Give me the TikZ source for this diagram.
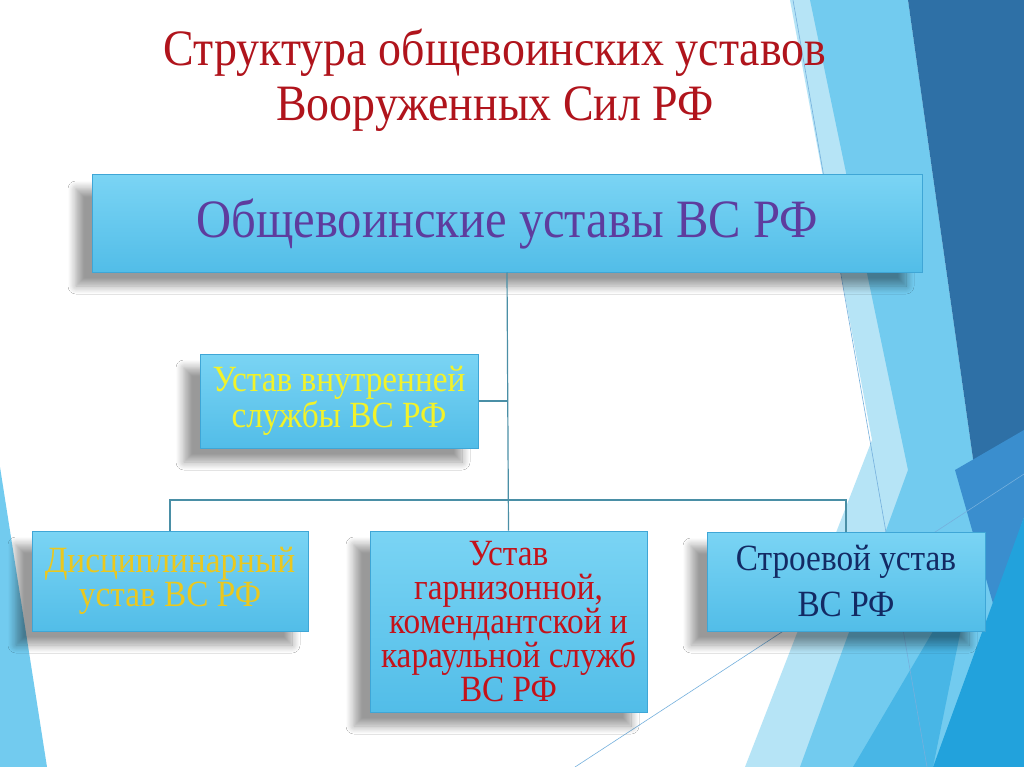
\documentclass[tikz,border=0pt]{standalone}
\usepackage{fontspec}
\setmainfont{Liberation Serif}[FakeStretch=0.9]
\usepackage{tikz}
\usetikzlibrary{positioning,shadows.blur}
\definecolor{titlered}{HTML}{B0141C}
\definecolor{boxtop}{HTML}{7AD4F4}
\definecolor{boxbot}{HTML}{52BDE8}
\definecolor{boxline}{HTML}{3FA6D6}
\definecolor{wire}{HTML}{4A8FA6}
\definecolor{purp}{HTML}{5E3C9E}
\definecolor{lemon}{HTML}{F2F22A}
\definecolor{gold}{HTML}{EBC81E}
\definecolor{crimson}{HTML}{C4121A}
\definecolor{navy}{HTML}{132A64}
\definecolor{facetpale}{HTML}{B6E4F6}
\definecolor{facetlight}{HTML}{72CBEF}
\definecolor{facetmid}{HTML}{48B6E6}
\definecolor{facetdark}{HTML}{2E70A6}
\definecolor{facetsea}{HTML}{3A8ECE}
\definecolor{facetbright}{HTML}{22A2DC}
\newcommand\boxfont{\fontsize{37}{34}\selectfont}

\begin{document}
\begin{tikzpicture}[x=1pt,y=-1pt,
        ustav/.style={draw=boxline,line width=1pt,top color=boxtop,bottom color=boxbot,
          blur shadow={shadow xshift=-16pt,shadow yshift=-14pt,shadow opacity=40,shadow blur steps=12,shadow blur radius=8pt},
          align=center,inner sep=2pt,font=\boxfont},
        wirestyle/.style={wire,line width=1.2pt}]%
        \useasboundingbox (0,0) rectangle (1024,767);%
        %% background facets
        \fill[white] (0,0) rectangle (1024,767);
        \fill[facetpale] (790,0) -- (908,0) -- (994,607) -- (933,767) -- (745,767) -- (872,440) -- cycle; %%
        \fill[facetlight] (810,0) -- (908,0) -- (994,607) -- (933,767) -- (800,767) -- (908,470) -- cycle; %%
        \fill[facetmid] (975,560) -- (933,767) -- (853,767) -- cycle; %%
        \fill[facetdark] (908,0) -- (1024,0) -- (1024,517) -- (994,607) -- cycle; %%
        \fill[facetsea] (1024,430) -- (1024,517) -- (994,607) -- (955,470) -- cycle; %%
        \fill[facetbright] (1024,517) -- (1024,767) -- (933,767) -- cycle; %%
        \fill[facetlight] (0,467) -- (47,767) -- (0,767) -- cycle; %%
        \draw[facetsea!70,line width=.6pt] (793,0) -- (927,767); %%
        \draw[facetsea!70,line width=.6pt] (575,767) -- (1024,474); %%
        %% title
        \node[text=titlered,align=center,font=\fontsize{51}{55}\selectfont] (title) at (495,80)
          {Структура общевоинских уставов\\Вооруженных Сил РФ}; %%
        \begin{scope}
        \tikzstyle{every node}=[ustav] %%
        \node[minimum width=830,minimum height=97,text=purp,font=\fontsize{54}{58}\selectfont] (top) at (507,223.5) {Общевоинские уставы ВС РФ}; %%
        \node[minimum width=278,minimum height=94,text=lemon] (inner) at (339,401) {Устав внутренней\\службы ВС РФ}; %%
        \node[minimum width=276,minimum height=100,text=gold] (disc) at (170,581) {Дисциплинарный\\устав ВС РФ}; %%
        \node[minimum width=277,minimum height=181,text=crimson] (garn) at (508.5,621.5) {Устав\\гарнизонной,\\комендантской и\\караульной служб\\ВС РФ}; %%
        \node[minimum width=278,minimum height=99,text=navy] (drill) at (846,581.5) {Строевой устав\\[12pt]ВС РФ}; %%
        \end{scope}
        \coordinate (bus) at (508,500); %%
        \draw[wirestyle] (top.south) -- (garn.north); %%
        \draw[wirestyle] (inner.east) -- (inner.east -| top.south); %%
        \draw[wirestyle] (disc.north) |- (bus) -| (drill.north); %%
\end{tikzpicture}
\end{document}
